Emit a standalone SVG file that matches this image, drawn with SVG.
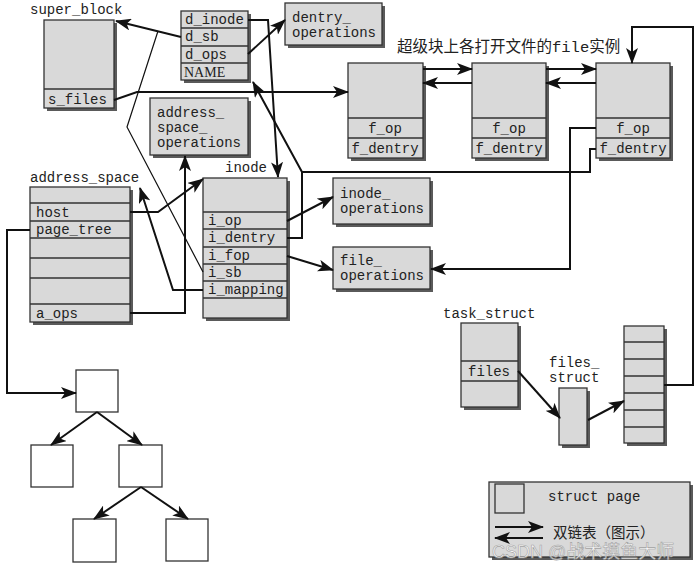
<svg xmlns="http://www.w3.org/2000/svg" width="700" height="567" viewBox="0 0 700 567">
<style>
.b{fill:#d9d9d9;stroke:#333;stroke-width:1.3}
.s{fill:#5a5a5a}
.w{fill:#fff;stroke:#333;stroke-width:1.3}
.t{font-family:"Liberation Mono",monospace;font-size:14px;fill:#222}
.n{font-family:"Liberation Serif",serif;font-size:14px;fill:#222}
.c{font-family:"Liberation Mono","Noto Sans CJK SC",monospace;font-size:15.5px;fill:#222}
.l{fill:none;stroke:#111;stroke-width:2}
.a{fill:none;stroke:#111;stroke-width:2;marker-end:url(#ah)}
.thin{fill:none;stroke:#111;stroke-width:1.2}
</style>
<defs>
<marker id="ah" markerUnits="userSpaceOnUse" markerWidth="16" markerHeight="12" refX="15" refY="6" orient="auto">
<path d="M0,0 L16,6 L0,12 L4,6 z" fill="#111"/>
</marker>
</defs>
<rect width="700" height="567" fill="#fff"/>

<g id="super_block">
<text class="t" x="30" y="14">super_block</text>
<rect class="s" x="47" y="23" width="70" height="88"/>
<rect class="b" x="44" y="20" width="70" height="88"/>
<line x1="44" y1="89" x2="114" y2="89" stroke="#333" stroke-width="1.3"/>
<text class="t" x="48" y="104">s_files</text>
</g>

<g id="dentry">
<rect class="s" x="184" y="14" width="67" height="69"/>
<rect class="b" x="181" y="11" width="67" height="69"/>
<path d="M181,28H248M181,46H248M181,63H248" stroke="#333" stroke-width="1.3"/>
<text class="t" x="185" y="24">d_inode</text>
<text class="t" x="185" y="41">d_sb</text>
<text class="t" x="185" y="59">d_ops</text>
<text class="n" x="184" y="77">NAME</text>
</g>

<g id="dentry_operations">
<rect class="s" x="288" y="6" width="97" height="42"/>
<rect class="b" x="285" y="3" width="97" height="42"/>
<text class="t" x="292" y="22">dentry_</text>
<text class="t" x="292" y="37">operations</text>
</g>

<g id="title">
<text class="c" x="397" y="52">超级块上各打开文件的file实例</text>
</g>

<g id="file1">
<rect class="s" x="351" y="66" width="75" height="95"/>
<rect class="b" x="348" y="63" width="75" height="95"/>
<path d="M348,118H423M348,138H423" stroke="#333" stroke-width="1.3"/>
<text class="t" x="385" y="133" text-anchor="middle">f_op</text>
<text class="t" x="385" y="153" text-anchor="middle">f_dentry</text>
</g>
<g id="file2">
<rect class="s" x="475" y="66" width="74" height="95"/>
<rect class="b" x="472" y="63" width="74" height="95"/>
<path d="M472,118H546M472,138H546" stroke="#333" stroke-width="1.3"/>
<text class="t" x="509" y="133" text-anchor="middle">f_op</text>
<text class="t" x="509" y="153" text-anchor="middle">f_dentry</text>
</g>
<g id="file3">
<rect class="s" x="599" y="66" width="74" height="95"/>
<rect class="b" x="596" y="63" width="74" height="95"/>
<path d="M596,118H670M596,138H670" stroke="#333" stroke-width="1.3"/>
<text class="t" x="633" y="133" text-anchor="middle">f_op</text>
<text class="t" x="633" y="153" text-anchor="middle">f_dentry</text>
</g>

<g id="address_space_operations">
<rect class="s" x="153" y="101" width="98" height="57"/>
<rect class="b" x="150" y="98" width="98" height="57"/>
<text class="t" x="157" y="117">address_</text>
<text class="t" x="157" y="132">space_</text>
<text class="t" x="157" y="147">operations</text>
</g>

<g id="address_space">
<text class="t" x="30" y="182">address_space</text>
<rect class="s" x="33" y="190" width="100" height="135"/>
<rect class="b" x="30" y="187" width="100" height="135"/>
<path d="M30,203H130M30,221H130M30,238H130M30,258H130M30,278H130M30,304H130" stroke="#333" stroke-width="1.3"/>
<text class="t" x="36" y="217">host</text>
<text class="t" x="36" y="234">page_tree</text>
<text class="t" x="36" y="318">a_ops</text>
</g>

<g id="inode">
<text class="t" x="225" y="172">inode</text>
<rect class="s" x="206" y="181" width="84" height="140"/>
<rect class="b" x="203" y="178" width="84" height="140"/>
<path d="M203,212H287M203,229H287M203,247H287M203,264H287M203,281H287M203,298H287" stroke="#333" stroke-width="1.3"/>
<text class="t" x="208" y="225">i_op</text>
<text class="t" x="208" y="242">i_dentry</text>
<text class="t" x="208" y="260">i_fop</text>
<text class="t" x="208" y="277">i_sb</text>
<text class="t" x="208" y="294">i_mapping</text>
</g>

<g id="inode_operations">
<rect class="s" x="336" y="181" width="97" height="46"/>
<rect class="b" x="333" y="178" width="97" height="46"/>
<text class="t" x="340" y="198">inode_</text>
<text class="t" x="340" y="213">operations</text>
</g>

<g id="file_operations">
<rect class="s" x="336" y="250" width="97" height="42"/>
<rect class="b" x="333" y="247" width="97" height="42"/>
<text class="t" x="340" y="265">file_</text>
<text class="t" x="340" y="280">operations</text>
</g>

<g id="task_struct">
<text class="t" x="443" y="318">task_struct</text>
<rect class="s" x="464" y="326" width="57" height="84"/>
<rect class="b" x="461" y="323" width="57" height="84"/>
<path d="M461,361H518M461,381H518" stroke="#333" stroke-width="1.3"/>
<text class="t" x="468" y="376">files</text>
</g>

<g id="files_struct">
<text class="t" x="549" y="367">files_</text>
<text class="t" x="549" y="382">struct</text>
<rect class="s" x="562" y="391" width="28" height="57"/>
<rect class="b" x="559" y="388" width="28" height="57"/>
</g>

<g id="fd_array">
<rect class="s" x="627" y="329" width="40" height="117"/>
<rect class="b" x="624" y="326" width="40" height="117"/>
<path d="M624,342H664M624,359H664M624,376H664M624,393H664M624,410H664M624,427H664" stroke="#333" stroke-width="1.3"/>
</g>

<g id="tree_root"><rect class="w" x="76" y="370" width="42" height="42"/></g>
<g id="tree_left"><rect class="w" x="31" y="445" width="42" height="42"/></g>
<g id="tree_right"><rect class="w" x="119" y="445" width="43" height="42"/></g>
<g id="tree_rl"><rect class="w" x="73" y="519" width="43" height="43"/></g>
<g id="tree_rr"><rect class="w" x="166" y="519" width="42" height="42"/></g>

<g id="legend">
<rect class="s" x="492" y="485" width="201" height="75"/>
<rect class="b" x="489" y="482" width="201" height="75"/>
<rect fill="#d9d9d9" stroke="#333" stroke-width="1.3" x="495" y="484" width="29" height="29"/>
<text class="t" x="548" y="501">struct page</text>
<line class="a" x1="495" y1="527" x2="543" y2="527"/>
<line class="a" x1="543" y1="538" x2="495" y2="538"/>
<text x="553" y="538" style="font-family:'Noto Sans CJK SC',sans-serif;font-size:14.5px;fill:#222">双链表（图示）</text>
<text x="492" y="558" style="font-family:'Liberation Sans','Noto Sans CJK SC',sans-serif;font-size:18px;fill:#fff;stroke:#999;stroke-width:0.6;opacity:0.85">CSDN @战术摸鱼大师</text>
</g>

<g id="connectors">
<line class="a" x1="181" y1="37" x2="116" y2="21"/>
<line class="a" x1="248" y1="54" x2="285" y2="20"/>
<polyline class="a" points="248,20 268,20 278,177"/>
<polyline class="a" points="114,100 137,92 348,92"/>
<line class="a" x1="423" y1="69" x2="472" y2="69"/>
<line class="a" x1="546" y1="69" x2="596" y2="69"/>
<line class="a" x1="472" y1="83" x2="423" y2="83"/>
<line class="a" x1="596" y1="83" x2="546" y2="83"/>
<polyline class="a" points="664,385 693,385 693,27 632,27 632,63"/>
<polyline class="a" points="287,238 302,238 302,172 253,82"/>
<polyline class="l" points="596,149 590,149 590,172 302,172"/>
<polyline class="a" points="596,128 570,128 570,269 431,269"/>
<line class="a" x1="287" y1="221" x2="333" y2="197"/>
<line class="a" x1="287" y1="256" x2="333" y2="270"/>
<polyline class="thin" points="203,272 127,127 158,31"/>
<polyline class="a" points="130,212 158,212 203,179"/>
<polyline class="a" points="203,290 173,290 140,188"/>
<polyline class="a" points="130,313 185,313 185,156"/>
<polyline class="a" points="30,230 7,230 7,393 76,393"/>
<line class="a" x1="97" y1="412" x2="51" y2="445"/>
<line class="a" x1="97" y1="412" x2="142" y2="445"/>
<line class="a" x1="141" y1="487" x2="94" y2="519"/>
<line class="a" x1="141" y1="487" x2="188" y2="519"/>
<line class="a" x1="518" y1="371" x2="560" y2="418"/>
<line class="a" x1="588" y1="420" x2="624" y2="401"/>
</g>
</svg>
